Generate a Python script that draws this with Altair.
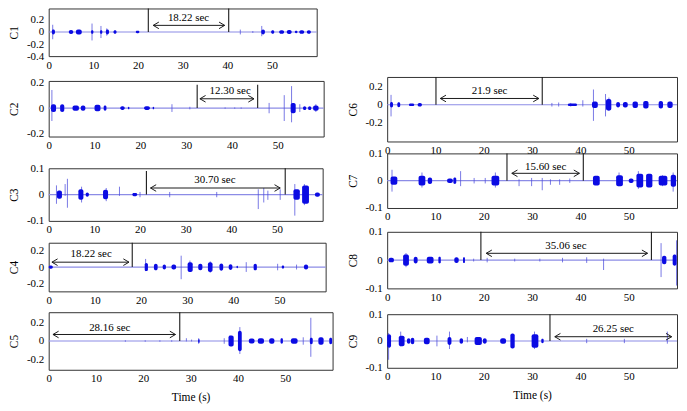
import altair as alt
import pandas as pd

FONT = "'Liberation Serif', 'Times New Roman', serif"
X_TICKS = [0, 10, 20, 30, 40, 50]
X_DOMAIN = [0, 60]

# ---- per-channel data: bursts (start s, end s, amplitude), spikes (t, up, down)
C1_bursts = [(0.7, 1.4, 0.04), (4.5, 5.5, 0.035), (6.1, 7.4, 0.04), (9.5, 10.0, 0.03), (11.5, 12.0, 0.03),
             (12.8, 13.5, 0.04), (14.5, 15.2, 0.03), (19.5, 20.3, 0.02), (47.6, 48.4, 0.04), (49.8, 50.5, 0.03),
             (51.6, 52.7, 0.03), (53.3, 54.4, 0.035), (55.1, 55.7, 0.02), (56.1, 57.2, 0.03), (57.8, 58.7, 0.03)]
C1_spikes = [(0.9, 0.12, -0.12), (9.7, 0.14, -0.14), (11.7, 0.1, -0.1), (13.0, 0.06, -0.06),
             (42.9, 0.04, -0.04), (45.7, 0.015, -0.015), (47.7, 0.1, -0.07)]
C1_markers = [22.3, 40.3]
C1_marker_tops = [0.39, 0.39]

C2_bursts = [(0.5, 1.6, 0.03), (2.5, 3.4, 0.03), (5.2, 6.6, 0.02), (7.0, 8.0, 0.02), (10.0, 11.3, 0.025),
             (12.0, 12.6, 0.02), (15.6, 16.6, 0.015), (17.3, 17.6, 0.01), (20.8, 22.1, 0.015), (22.7, 23.0, 0.01),
             (52.8, 53.9, 0.04), (55.5, 56.2, 0.015), (56.6, 57.3, 0.015), (57.7, 58.9, 0.02)]
C2_spikes = [(0.7, 0.14, -0.1), (26.9, 0.03, -0.03), (30.8, 0.01, -0.01), (38.5, 0.005, -0.005),
             (40.6, 0.005, -0.005), (42.0, 0.005, -0.005), (48.1, 0.04, -0.04), (51.4, 0.1, -0.1),
             (53.0, 0.17, -0.11), (54.8, 0.03, -0.03), (58.3, 0.03, -0.03)]
C2_markers = [32.4, 45.6]
C2_marker_tops = [0.18, 0.18]

C3_bursts = [(1.8, 2.9, 0.016), (6.5, 7.6, 0.02), (8.1, 8.8, 0.008), (11.9, 13.0, 0.018), (18.3, 19.4, 0.006),
             (53.6, 55.0, 0.02), (55.5, 57.0, 0.035), (58.3, 59.4, 0.008)]
C3_spikes = [(1.7, 0.035, -0.035), (3.6, 0.04, -0.005), (4.1, 0.06, -0.05), (7.2, 0.03, -0.03),
             (12.6, 0.025, -0.025), (15.5, 0.03, -0.005), (20.0, 0.01, -0.01), (26.5, 0.01, -0.01),
             (36.8, 0.01, -0.01), (45.9, 0.02, -0.055), (47.1, 0.025, -0.03), (48.0, 0.015, -0.02),
             (50.7, 0.02, -0.02), (53.9, 0.04, -0.08), (56.0, 0.04, -0.04)]
C3_markers = [21.4, 51.8]
C3_marker_tops = [0.09, 0.1]

C4_bursts = [(0.0, 0.9, 0.02), (20.8, 21.5, 0.05), (22.8, 23.6, 0.04), (24.7, 25.4, 0.03), (26.6, 27.6, 0.03),
             (30.1, 31.2, 0.06), (32.4, 33.3, 0.04), (34.5, 35.5, 0.06), (37.0, 37.8, 0.045), (39.0, 39.8, 0.035),
             (40.7, 41.0, 0.015), (44.4, 45.1, 0.04), (50.5, 51.0, 0.02), (55.3, 56.2, 0.03)]
C4_spikes = [(21.0, 0.1, -0.05), (28.7, 0.14, -0.15), (30.6, 0.08, -0.06), (35.0, 0.07, -0.07),
             (42.8, 0.06, -0.06), (49.6, 0.04, -0.04), (53.7, 0.03, -0.03)]
C4_markers = [18.1]
C4_marker_tops = [0.3]

C5_bursts = [(31.6, 31.9, 0.02), (38.0, 39.1, 0.06), (40.0, 40.8, 0.11), (42.3, 43.5, 0.028), (44.2, 45.5, 0.03),
             (46.6, 47.7, 0.03), (49.0, 49.5, 0.03), (51.2, 52.6, 0.03), (55.2, 55.8, 0.035), (57.0, 58.1, 0.04),
             (59.3, 59.9, 0.035)]
C5_spikes = [(16.2, 0.008, -0.008), (20.4, 0.008, -0.008), (23.5, 0.008, -0.008), (26.0, 0.008, -0.008),
             (29.1, 0.03, -0.005), (30.2, 0.015, -0.005), (31.7, 0.03, -0.03), (37.1, 0.03, -0.03),
             (38.3, 0.06, -0.05), (40.4, 0.15, -0.14), (53.8, 0.04, -0.04), (55.4, 0.25, -0.17)]
C5_markers = [27.7]
C5_marker_tops = [0.31]

C6_bursts = [(0.6, 1.2, 0.03), (2.1, 2.7, 0.027), (4.5, 5.6, 0.015), (6.3, 7.2, 0.02), (37.4, 39.3, 0.015),
             (42.4, 43.6, 0.035), (45.3, 46.4, 0.064), (47.4, 48.2, 0.031), (48.8, 49.8, 0.031), (50.8, 51.9, 0.035),
             (53.0, 54.1, 0.042), (56.2, 57.1, 0.042), (58.0, 59.1, 0.035)]
C6_spikes = [(0.8, 0.11, -0.13), (34.1, 0.02, -0.02), (35.5, 0.025, -0.02), (38.0, 0.02, -0.02),
             (40.5, 0.05, -0.02), (42.7, 0.17, -0.18), (45.2, 0.12, -0.13), (45.9, 0.08, -0.07)]
C6_markers = [10.1, 32.1]
C6_marker_tops = [0.31, 0.31]

C7_bursts = [(0.7, 2.1, 0.015), (6.5, 7.9, 0.018), (8.4, 9.3, 0.012), (12.4, 13.6, 0.008), (13.7, 14.3, 0.012),
             (21.6, 23.2, 0.018), (42.6, 44.0, 0.018), (47.4, 48.8, 0.02), (50.0, 51.0, 0.008), (51.6, 53.0, 0.025),
             (53.6, 54.9, 0.025), (56.2, 58.0, 0.018), (58.7, 59.8, 0.022)]
C7_spikes = [(1.0, 0.04, -0.04), (7.2, 0.03, -0.025), (15.2, 0.035, -0.02), (18.0, 0.01, -0.01),
             (20.3, 0.01, -0.01), (22.4, 0.03, -0.025), (27.3, 0.005, -0.02), (29.9, 0.01, -0.02),
             (32.1, 0.01, -0.035), (33.8, 0.005, -0.015), (35.7, 0.005, -0.015), (37.8, 0.008, -0.008),
             (48.0, 0.03, -0.02), (52.0, 0.035, -0.03), (57.0, 0.02, -0.02), (59.2, 0.03, -0.04)]
C7_markers = [24.8, 40.6]
C7_marker_tops = [0.1, 0.1]

C8_bursts = [(0.3, 1.4, 0.008), (3.3, 4.5, 0.02), (5.5, 6.3, 0.012), (8.2, 9.6, 0.012), (10.6, 11.1, 0.012),
             (13.9, 14.8, 0.01), (15.7, 16.1, 0.01), (56.9, 57.8, 0.015), (59.1, 59.9, 0.02)]
C8_spikes = [(3.9, 0.025, -0.025), (17.9, 0.005, -0.005), (20.7, 0.008, -0.008), (26.4, 0.005, -0.005),
             (31.6, 0.005, -0.005), (36.3, 0.008, -0.008), (41.3, 0.01, -0.01), (44.8, 0.005, -0.035),
             (56.7, 0.06, -0.06), (59.9, 0.07, -0.09)]
C8_markers = [19.4, 54.7]
C8_marker_tops = [0.1, 0.1]

C9_bursts = [(0.0, 0.8, 0.025), (2.4, 3.6, 0.02), (4.1, 4.8, 0.01), (4.9, 5.6, 0.012), (7.6, 8.8, 0.012),
             (12.5, 13.3, 0.015), (15.0, 15.7, 0.01), (18.1, 19.6, 0.015), (19.8, 20.6, 0.01), (23.4, 24.6, 0.01),
             (25.5, 26.4, 0.028), (29.9, 31.3, 0.025), (31.9, 32.4, 0.008)]
C9_spikes = [(0.3, 0.03, -0.07), (2.8, 0.035, -0.02), (10.3, 0.02, -0.02), (12.9, 0.035, -0.03),
             (16.6, 0.015, -0.005), (30.5, 0.035, -0.03), (41.3, 0.008, -0.008), (49.1, 0.008, -0.008),
             (58.0, 0.035, -0.01)]
C9_markers = [33.7]
C9_marker_tops = [0.1]

# annotations: arrow (start, end, y), label text, label (x, y)
ARROWS = {
    "C1": ((23.4, 39.4, 0.11), "18.22 sec", (31.3, 0.23)),
    "C2": ((33.0, 44.8, 0.072), "12.30 sec", (39.6, 0.13)),
    "C3": ((22.3, 50.7, 0.025), "30.70 sec", (36.4, 0.055)),
    "C4": ((0.7, 17.4, 0.06), "18.22 sec", (9.2, 0.16)),
    "C5": ((0.9, 26.8, 0.07), "28.16 sec", (12.9, 0.14)),
    "C6": ((11.0, 31.4, 0.07), "21.9 sec", (21.2, 0.15)),
    "C7": ((25.8, 39.8, 0.027), "15.60 sec", (32.8, 0.051)),
    "C8": ((20.5, 53.9, 0.024), "35.06 sec", (37.0, 0.05)),
    "C9": ((34.7, 58.9, 0.016), "26.25 sec", (46.8, 0.043)),
}

Y_DOMAINS = {
    "C1": [-0.4, 0.39], "C2": [-0.22, 0.21], "C3": [-0.1, 0.1], "C4": [-0.3, 0.3], "C5": [-0.31, 0.31],
    "C6": [-0.41, 0.31], "C7": [-0.1, 0.1], "C8": [-0.1, 0.1], "C9": [-0.1, 0.1],
}
Y_TICKS = {
    "C1": [-0.4, -0.2, 0, 0.2], "C2": [-0.2, 0, 0.2], "C3": [-0.1, 0, 0.1], "C4": [-0.2, 0, 0.2],
    "C5": [-0.2, 0, 0.2], "C6": [-0.2, 0, 0.2], "C7": [-0.1, 0, 0.1], "C8": [-0.1, 0, 0.1], "C9": [-0.1, 0, 0.1],
}

SIZES = {"C1": (270, 48), "C2": (277, 56), "C3": (276, 53), "C4": (279, 49), "C5": (286, 58),
         "C6": (292, 65), "C7": (292, 55), "C8": (292, 57), "C9": (292, 54)}

BURST_COLOR = "#0b0be3"
SPIKE_COLOR = "#4b4bdc"
BASE_COLOR = "#8c8ce6"
LEFT_HEAD = "M1.2,-0.7L0,0L1.2,0.7"
RIGHT_HEAD = "M-1.2,-0.7L0,0L-1.2,0.7"


def make_panel(name, bursts, spikes, markers, marker_tops, xtitle=False):
    w, h = SIZES[name]
    xs = alt.Scale(domain=X_DOMAIN, nice=False, zero=False)
    ys = alt.Scale(domain=Y_DOMAINS[name], nice=False, zero=False)
    xaxis_kw = dict(values=X_TICKS, grid=False, domain=False, ticks=False, tickSize=0, labelPadding=3,
                    labelFont=FONT, labelFontSize=11, labelColor="black", labelFlush=False, format="d")
    if xtitle:
        xaxis_kw.update(title="Time (s)", titleFont=FONT, titleFontSize=11.5, titleFontWeight="normal",
                        titleColor="black", titlePadding=8)
    else:
        xaxis_kw.update(title="")
    xaxis = alt.Axis(**xaxis_kw)
    yaxis = alt.Axis(values=Y_TICKS[name], grid=False, domain=False, ticks=False, tickSize=0, labelPadding=5,
                     labelFont=FONT, labelFontSize=11, labelColor="black", labelFlush=False,
                     format=".1~f", labelExpr="replace(datum.label, '\u2212', '-')",
                     title=name, titleFont=FONT, titleFontSize=11.5, titleFontWeight="normal", titleColor="black",
                     titleAngle=270, titleX=-34, titleY=h / 2, titleAlign="center", titleBaseline="middle")

    def X(f):
        return alt.X(f, scale=xs, axis=xaxis)

    def Y(f):
        return alt.Y(f, scale=ys, axis=yaxis)

    base_df = pd.DataFrame({"x0": [X_DOMAIN[0]], "x1": [X_DOMAIN[1]], "y": [0.0]})
    baseline = alt.Chart(base_df).mark_rule(color=BASE_COLOR, strokeWidth=1.2).encode(
        x=X("x0:Q"), x2="x1:Q", y=Y("y:Q"))

    sp_df = pd.DataFrame(spikes, columns=["t", "up", "down"])
    spike_layer = alt.Chart(sp_df).mark_rule(color=SPIKE_COLOR, strokeWidth=1, opacity=0.75).encode(
        x=X("t:Q"), y=Y("down:Q"), y2="up:Q")

    b_df = pd.DataFrame(bursts, columns=["s", "e", "a"])
    b_df["na"] = -b_df["a"]
    burst_layer = alt.Chart(b_df).mark_rect(color=BURST_COLOR, cornerRadius=2).encode(
        x=X("s:Q"), x2="e:Q", y=Y("na:Q"), y2="a:Q")

    m_df = pd.DataFrame({"t": markers, "top": marker_tops, "bot": [0.0] * len(markers)})
    marker_layer = alt.Chart(m_df).mark_rule(color="#1a1a1a", strokeWidth=1.1).encode(
        x=X("t:Q"), y=Y("bot:Q"), y2="top:Q")

    (a0, a1, ay), label, (lx, ly) = ARROWS[name]
    a_df = pd.DataFrame({"a0": [a0], "a1": [a1], "y": [ay]})
    arrow_line = alt.Chart(a_df).mark_rule(color="#1a1a1a", strokeWidth=1).encode(
        x=X("a0:Q"), x2="a1:Q", y=Y("y:Q"))
    head_l = alt.Chart(a_df).mark_point(shape=LEFT_HEAD, size=90, filled=False, color="#1a1a1a",
                                        strokeWidth=1, opacity=1).encode(x=X("a0:Q"), y=Y("y:Q"))
    head_r = alt.Chart(a_df).mark_point(shape=RIGHT_HEAD, size=90, filled=False, color="#1a1a1a",
                                        strokeWidth=1, opacity=1).encode(x=X("a1:Q"), y=Y("y:Q"))

    t_df = pd.DataFrame({"x": [lx], "y": [ly], "txt": [label]})
    text_layer = alt.Chart(t_df).mark_text(font=FONT, fontSize=11, color="black", align="center",
                                           baseline="middle").encode(x=X("x:Q"), y=Y("y:Q"), text="txt:N")

    return alt.layer(baseline, spike_layer, burst_layer, marker_layer, arrow_line, head_l, head_r,
                     text_layer).properties(width=w, height=h)


def spacer(h):
    return alt.Chart(pd.DataFrame({"v": pd.Series([], dtype=float)})).mark_point(opacity=0).encode(
        x=alt.X("v:Q", axis=None), y=alt.Y("v:Q", axis=None)
    ).properties(width=200, height=h, view=alt.ViewBackground(stroke="transparent"))


p1 = make_panel("C1", C1_bursts, C1_spikes, C1_markers, C1_marker_tops)
p2 = make_panel("C2", C2_bursts, C2_spikes, C2_markers, C2_marker_tops)
p3 = make_panel("C3", C3_bursts, C3_spikes, C3_markers, C3_marker_tops)
p4 = make_panel("C4", C4_bursts, C4_spikes, C4_markers, C4_marker_tops)
p5 = make_panel("C5", C5_bursts, C5_spikes, C5_markers, C5_marker_tops, xtitle=True)
p6 = make_panel("C6", C6_bursts, C6_spikes, C6_markers, C6_marker_tops)
p7 = make_panel("C7", C7_bursts, C7_spikes, C7_markers, C7_marker_tops)
p8 = make_panel("C8", C8_bursts, C8_spikes, C8_markers, C8_marker_tops)
p9 = make_panel("C9", C9_bursts, C9_spikes, C9_markers, C9_marker_tops, xtitle=True)

left = alt.vconcat(p1, spacer(25), p2, spacer(31.3), p3, spacer(21.4), p4, spacer(20.6), p5,
                   spacing=0, bounds="flush").resolve_scale(x="independent", y="independent")
right = alt.vconcat(spacer(68.7), p6, spacer(12), p7, spacer(24), p8, spacer(26), p9,
                    spacing=0, bounds="flush").resolve_scale(x="independent", y="independent")

chart = alt.hconcat(left, right, spacing=12).resolve_scale(
    x="independent", y="independent"
).properties(padding={"left": 0, "top": -3, "right": 0, "bottom": 0},
             background="white").configure_view(stroke="#333333", strokeWidth=1)

chart.save("out.html", embed_options={"renderer": "svg", "actions": False})
